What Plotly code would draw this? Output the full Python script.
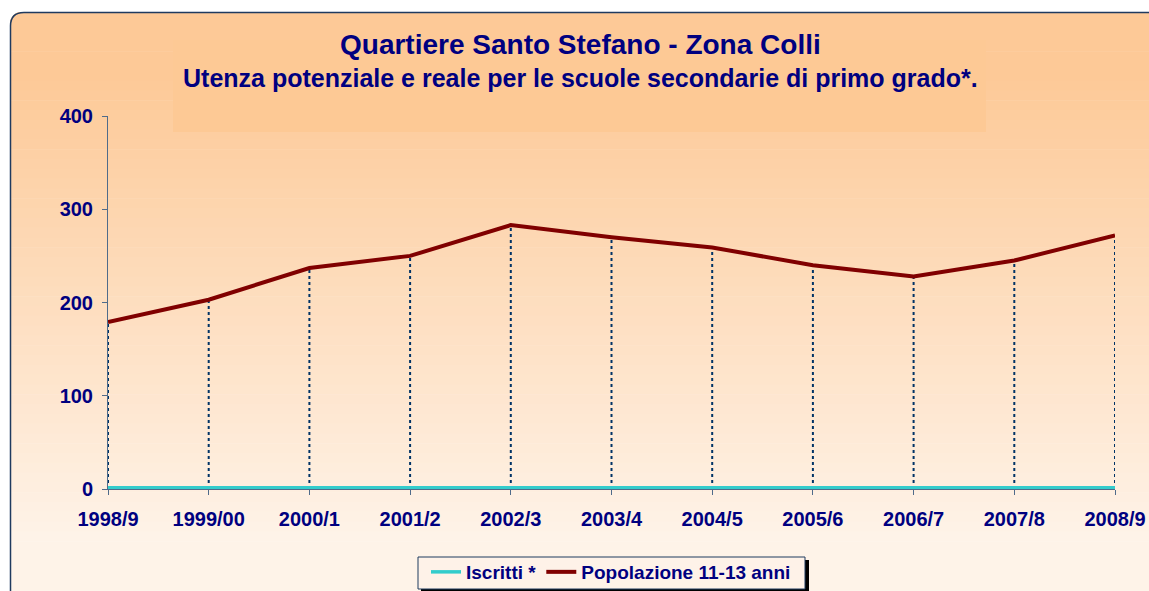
import plotly.graph_objects as go

years = ["1998/9", "1999/00", "2000/1", "2001/2", "2002/3", "2003/4",
         "2004/5", "2005/6", "2006/7", "2007/8", "2008/9"]
iscritti = [0, 0, 0, 0, 0, 0, 0, 0, 0, 0, 0]
popolazione = [179, 203, 237, 250, 283, 270, 259, 240, 228, 245, 272]

title_main = "Quartiere Santo Stefano - Zona Colli"
title_sub = "Utenza potenziale e reale per le scuole secondarie di primo grado*."

W, H = 1149, 591
L, R, T, B = 108, 1115, 116, 489
NAVY = "#000080"
FONT = "Liberation Sans"
CYAN = "#33CCCC"


def px(x):
    return (x - L) / (R - L)


def py(y):
    return (B - y) / (B - T)


shapes = []
# gradient background inside the rounded frame
top_c = (253, 201, 151)
bot_c = (254, 243, 232)
y0, y1 = 12, 600
n = 60
for i in range(n):
    a = y0 + (y1 - y0) * i / n
    b = y0 + (y1 - y0) * (i + 1) / n
    t = i / (n - 1)
    t = min(1.0, max(0.0, (t - 0.1) / 0.8))
    c = tuple(round(top_c[k] + (bot_c[k] - top_c[k]) * t) for k in range(3))
    shapes.append(dict(type="rect", xref="paper", yref="paper", layer="below",
                       x0=px(10), x1=px(1160), y0=py(a), y1=py(b + 0.5),
                       fillcolor="rgb(%d,%d,%d)" % c, line=dict(width=0)))
# title box
shapes.append(dict(type="rect", xref="paper", yref="paper", layer="below",
                   x0=px(173), x1=px(986), y0=py(40), y1=py(132),
                   fillcolor="#FDC995", line=dict(width=0)))
# white corner mask
shapes.append(dict(type="path", xref="paper", yref="paper", layer="below",
                   path="M %f %f L %f %f Q %f %f %f %f Z" % (
                       px(9), py(11), px(24), py(11), px(10), py(12), px(9), py(26)),
                   fillcolor="white", line=dict(width=0)))
# frame
shapes.append(dict(type="path", xref="paper", yref="paper", layer="below",
                   path="M %f %f L %f %f Q %f %f %f %f L %f %f" % (
                       px(10.5), py(600), px(10.5), py(26), px(10.5), py(12.5),
                       px(24), py(12.5), px(1160), py(12.5)),
                   line=dict(color="#1F3A5F", width=1.5)))
# legend shadow and box
shapes.append(dict(type="rect", xref="paper", yref="paper", layer="below",
                   x0=px(421), x1=px(809), y0=py(560), y1=py(593),
                   fillcolor="black", line=dict(width=0)))
shapes.append(dict(type="rect", xref="paper", yref="paper", layer="below",
                   x0=px(418), x1=px(805), y0=py(557), y1=py(589),
                   fillcolor="#FEF2E8", line=dict(color="#1F3A5F", width=1)))

drop_x, drop_y = [], []
for c, v in zip(years, popolazione):
    drop_x += [c, c, None]
    drop_y += [0, v, None]

fig = go.Figure()
fig.add_trace(go.Scatter(x=drop_x, y=drop_y, mode="lines", showlegend=False,
                         hoverinfo="skip",
                         line=dict(color="#003366", width=2, dash="dot")))
# drawn line (half clipped at the axis edge, hence wider)
fig.add_trace(go.Scatter(x=years, y=iscritti, mode="lines", name="Iscritti *",
                         showlegend=False, legendgroup="isc",
                         line=dict(color=CYAN, width=6)))
# legend entry for Iscritti
fig.add_trace(go.Scatter(x=[None], y=[None], mode="lines", name="Iscritti *",
                         legendgroup="isc", hoverinfo="skip",
                         line=dict(color=CYAN, width=3.5)))
fig.add_trace(go.Scatter(x=years, y=popolazione, mode="lines",
                         name="Popolazione 11-13 anni",
                         line=dict(color="#800000", width=4)))

fig.update_layout(
    width=W, height=H,
    margin=dict(l=L, r=W - R, t=T, b=H - B, autoexpand=False),
    paper_bgcolor="white", plot_bgcolor="rgba(0,0,0,0)",
    font=dict(family=FONT, color=NAVY, size=19, weight="bold"),
    shapes=shapes,
    showlegend=True,
    legend=dict(orientation="h", x=px(611), xanchor="center", y=py(553), yanchor="top",
                bgcolor="rgba(0,0,0,0)", borderwidth=0,
                font=dict(family=FONT, size=19, color=NAVY, weight="bold"),
                itemwidth=30, tracegroupgap=0),
    annotations=[
        dict(text=title_main, xref="paper", yref="paper", x=px(580), y=py(44),
             xanchor="center", yanchor="middle", showarrow=False,
             font=dict(family=FONT, size=28, color=NAVY, weight="bold")),
        dict(text=title_sub, xref="paper", yref="paper", x=px(580), y=py(78),
             xanchor="center", yanchor="middle", showarrow=False,
             font=dict(family=FONT, size=25, color=NAVY, weight="bold")),
    ],
)
fig.update_xaxes(type="category", range=[0, len(years) - 1], showgrid=False,
                 showline=True, linecolor="#4F6B8A", linewidth=1,
                 ticks="outside", ticklen=5, tickcolor="#4F6B8A",
                 ticklabelstandoff=7, layer="below traces",
                 tickfont=dict(family=FONT, size=20, color=NAVY, weight="bold"),
                 zeroline=False, fixedrange=True)
fig.update_yaxes(range=[0, 400], dtick=100, showgrid=False, zeroline=False,
                 showline=True, linecolor="#4F6B8A", linewidth=1,
                 ticks="outside", ticklen=5, tickcolor="#4F6B8A",
                 ticklabelstandoff=5,
                 tickfont=dict(family=FONT, size=20, color=NAVY, weight="bold"),
                 fixedrange=True)

fig.write_html("out.html", config={"displayModeBar": False},
               post_script="document.body.style.margin='0';document.body.style.overflow='hidden';")
